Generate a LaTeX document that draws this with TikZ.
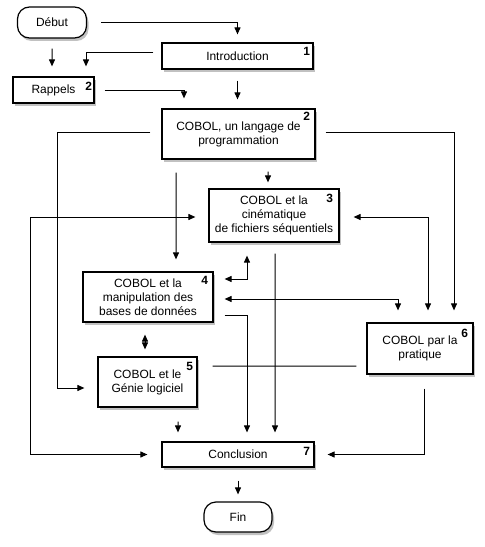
\documentclass[tikz,border=0pt]{standalone}
\usepackage{fontspec}
\setmainfont{Liberation Sans}
\usetikzlibrary{arrows.meta,positioning,shadows}

\begin{document}
\begin{tikzpicture}[
    x=1bp, y=-1bp,
    font=\fontsize{12}{14}\selectfont,
    box/.style={rectangle, draw, line width=1.2bp, fill=white, align=center, inner sep=0pt,
        drop shadow={shadow xshift=2bp, shadow yshift=-3bp, opacity=0.3, fill=black!80}},
    pill/.style={box, rounded corners=12bp},
    num/.style={font=\fontsize{12}{14}\selectfont\bfseries, inner sep=0pt},
    arrow/.style={->, line width=1bp, >={Triangle[length=7bp, width=6bp]}},
    link/.style={line width=1bp}
]
    \fill[white] (0,0) rectangle (485,547);
    \useasboundingbox (0,0) rectangle (485,547);

    % Boxes
    \node[pill, minimum width=69bp, minimum height=31bp] (debut) at (52,22.5) {Début};
    \node[box, minimum width=151bp, minimum height=26bp] (intro) at (237.5,56) {Introduction};
    \node[box, minimum width=81bp, minimum height=26bp] (rappels) at (53.5,90) {Rappels};
    \node[box, minimum width=153bp, minimum height=50bp] (langage) at (238.5,134) {COBOL, un langage de\\programmation};
    \node[box, minimum width=130bp, minimum height=53bp] (fichiers) at (274,215.5) {COBOL et la\\cinématique\\de fichiers séquentiels};
    \node[box, minimum width=130bp, minimum height=50bp] (bases) at (148,297) {COBOL et la\\manipulation des\\bases de données};
    \node[box, minimum width=99bp, minimum height=50bp] (genie) at (147.5,382) {COBOL et le\\Génie logiciel};
    \node[box, minimum width=106bp, minimum height=51bp] (pratique) at (420,348.5) {COBOL par la\\pratique};
    \node[box, minimum width=152bp, minimum height=25bp] (conclusion) at (238,454.5) {Conclusion};
    \node[pill, minimum width=68bp, minimum height=30bp] (fin) at (238,517) {Fin};

    % Chapter numbers
    \node[num] (num-intro) at ([xshift=-7bp, yshift=-9bp]intro.north east) {1};
    \node[num] (num-rappels) at ([xshift=-6bp, yshift=-10bp]rappels.north east) {2};
    \node[num] (num-langage) at ([xshift=-9bp, yshift=-8bp]langage.north east) {2};
    \node[num] (num-fichiers) at ([xshift=-10bp, yshift=-10bp]fichiers.north east) {3};
    \node[num] (num-bases) at ([xshift=-9bp, yshift=-9bp]bases.north east) {4};
    \node[num] (num-genie) at ([xshift=-8bp, yshift=-10bp]genie.north east) {5};
    \node[num] (num-pratique) at ([xshift=-9bp, yshift=-11bp]pratique.north east) {6};
    \node[num] (num-conclusion) at ([xshift=-8bp, yshift=-10bp]conclusion.north east) {7};

    % Arrows
    \draw[arrow, shorten <=14bp, shorten >=8bp] (debut.east) -| (intro.north);
    \draw[arrow, shorten <=10bp, shorten >=10bp] (debut.south) -- ([xshift=-1.5bp]rappels.north);
    \draw[arrow, shorten <=8bp, shorten >=10bp] ([yshift=3bp]intro.west) -| ([xshift=32.5bp]rappels.north);
    \draw[arrow, shorten <=10bp, shorten >=10bp] ([yshift=-1bp]rappels.east) -| ([xshift=-54.5bp]langage.north);
    \draw[arrow, shorten <=11bp, shorten >=9bp] (intro.south) -- ([xshift=-1bp]langage.north);
    \draw[arrow, shorten <=11bp, shorten >=13bp] ([yshift=1bp]langage.west) -| ([xshift=-40bp, yshift=-6bp]genie.west) -- ([yshift=-6bp]genie.west);
    \draw[arrow, shorten <=10bp, shorten >=12bp] ([yshift=1bp]langage.east) -| ([xshift=34bp]pratique.north);
    \draw[arrow, shorten <=13bp, shorten >=12bp] ([xshift=-62.5bp]langage.south) -- ([xshift=28bp]bases.north);
    \draw[arrow, shorten <=12bp, shorten >=6bp] ([xshift=29.5bp]langage.south) -- ([xshift=-6bp]fichiers.north);
    \draw[arrow, <->, shorten <=13bp, shorten >=14bp] ([yshift=-1.5bp]fichiers.west) -| ([xshift=-131bp]conclusion.west) -- (conclusion.west);
    \draw[arrow, <->, shorten <=14bp, shorten >=12bp] ([yshift=-1.5bp]fichiers.east) -| ([xshift=8bp]pratique.north);
    \draw[arrow, <->, shorten <=11bp, shorten >=13bp] ([yshift=18bp]bases.east) -| ([xshift=-27bp]fichiers.south);
    \draw[arrow, <->, shorten <=11bp, shorten >=12bp] ([yshift=-2bp]bases.east) -| ([xshift=-22bp]pratique.north);
    \draw[arrow, shorten <=11bp, shorten >=9bp] ([yshift=-18bp]bases.east) -| ([xshift=9bp]conclusion.north);
    \draw[arrow, shorten <=11bp, shorten >=9bp] ([xshift=1bp]fichiers.south) -- ([xshift=37bp]conclusion.north);
    \draw[arrow, <->, shorten <=12bp, shorten >=7bp] ([xshift=-3bp]bases.south) -- ([xshift=-2.5bp]genie.north);
    \draw[link, shorten <=15bp, shorten >=10bp] ([yshift=16bp]genie.east) -- ([yshift=-17.5bp]pratique.west);
    \draw[arrow, shorten <=14bp, shorten >=9bp] ([xshift=30.5bp]genie.south) -- ([xshift=-60bp]conclusion.north);
    \draw[arrow, shorten <=14bp, shorten >=13bp] ([xshift=4bp]pratique.south) |- (conclusion.east);
    \draw[arrow, shorten <=13bp, shorten >=7bp] (conclusion.south) -- (fin.north);
\end{tikzpicture}
\end{document}
